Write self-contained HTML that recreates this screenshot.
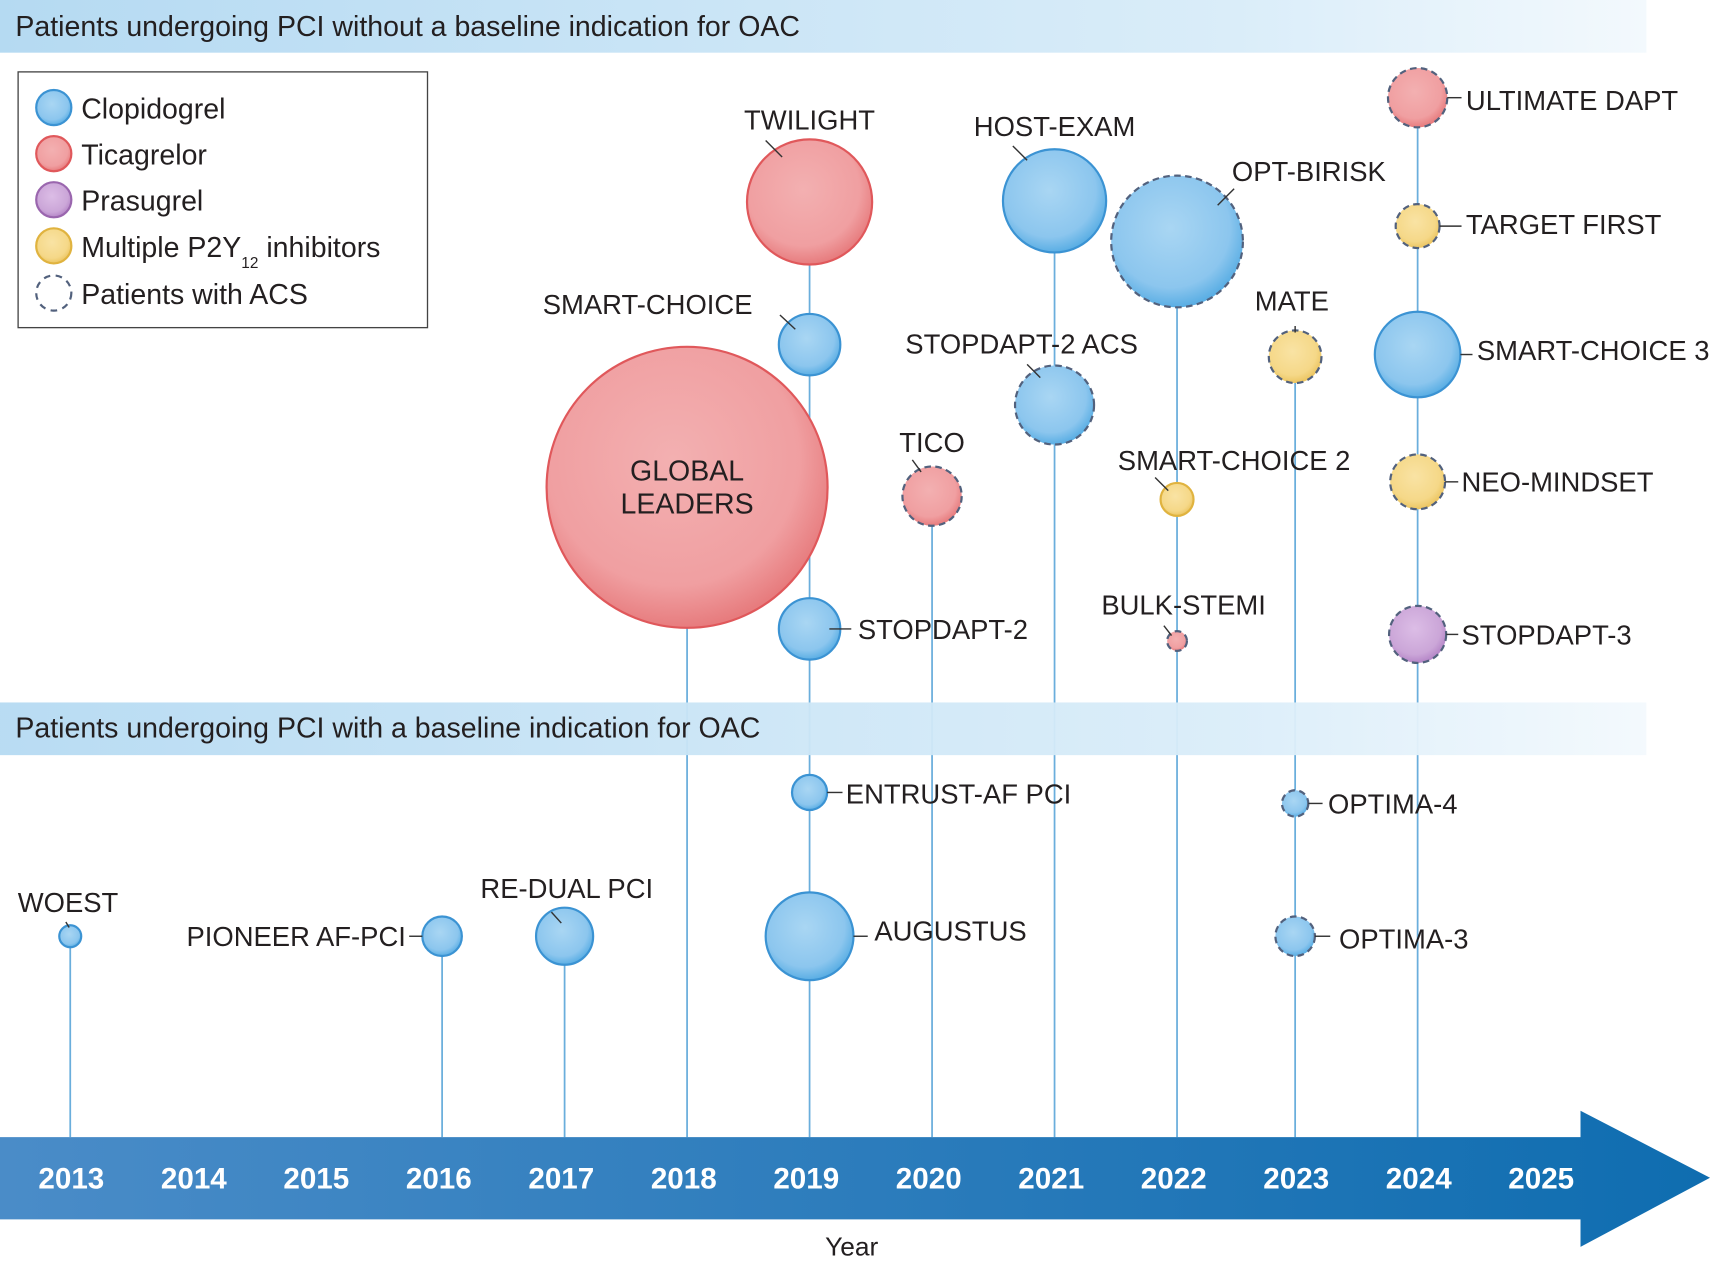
<!DOCTYPE html>
<html><head><meta charset="utf-8"><style>
html,body{margin:0;padding:0;background:#fff;}
svg{display:block;}
text{font-family:"Liberation Sans",sans-serif;fill:#231f20;}
</style></head><body>
<svg id="chart" width="1721" height="1263" viewBox="0 0 1568 1150.7" preserveAspectRatio="none" xmlns="http://www.w3.org/2000/svg">
<defs>
<linearGradient id="band" x1="0" x2="1" y1="0" y2="0">
<stop offset="0" stop-color="#b5daf2"/><stop offset="0.75" stop-color="#daedf9"/><stop offset="1" stop-color="#f3f9fd"/></linearGradient>
<linearGradient id="arrowG" x1="0" x2="1" y1="0" y2="0">
<stop offset="0" stop-color="#4a8cc8"/><stop offset="1" stop-color="#0f6db0"/></linearGradient>
<radialGradient id="g-clop" cx="0.45" cy="0.4" r="0.6"><stop offset="0" stop-color="#a9d6f3"/><stop offset="0.75" stop-color="#8cc6ee"/><stop offset="1" stop-color="#5aaee4"/></radialGradient>
<radialGradient id="g-tica" cx="0.45" cy="0.4" r="0.6"><stop offset="0" stop-color="#f3b0b1"/><stop offset="0.75" stop-color="#f09fa1"/><stop offset="1" stop-color="#e77c7e"/></radialGradient>
<radialGradient id="g-pras" cx="0.45" cy="0.4" r="0.6"><stop offset="0" stop-color="#dcbde6"/><stop offset="0.75" stop-color="#cba6d8"/><stop offset="1" stop-color="#b586c7"/></radialGradient>
<radialGradient id="g-mult" cx="0.45" cy="0.4" r="0.6"><stop offset="0" stop-color="#f9e3a4"/><stop offset="0.75" stop-color="#f5d888"/><stop offset="1" stop-color="#ecc561"/></radialGradient>
</defs>
<g id="stems"></g>
<rect x="0" y="0" width="1500" height="48" fill="url(#band)"/>
<text x="14" y="33" font-size="26">Patients undergoing PCI without a baseline indication for OAC</text>
<rect x="0" y="640" width="1500" height="48" fill="url(#band)" opacity="0.95"/>
<text x="14" y="672" font-size="26">Patients undergoing PCI with a baseline indication for OAC</text>
<path d="M0 1036 H1440 V1012 L1558 1073 L1440 1136 V1111 H0 Z" fill="url(#arrowG)"/>
<g id="years"></g>
<text x="776" y="1144" font-size="24" text-anchor="middle">Year</text>
<g id="bubbles"></g>
<g>
<rect x="16.5" y="65.5" width="373" height="233" fill="#fff" stroke="#444" stroke-width="1.2"/>
<circle cx="49" cy="98" r="16" fill="url(#g-clop)" stroke="#3b93d3" stroke-width="2"/>
<text x="74" y="108" font-size="26">Clopidogrel</text>
<circle cx="49" cy="140" r="16" fill="url(#g-tica)" stroke="#e0585b" stroke-width="2"/>
<text x="74" y="150" font-size="26">Ticagrelor</text>
<circle cx="49" cy="182" r="16" fill="url(#g-pras)" stroke="#9a66ae" stroke-width="2"/>
<text x="74" y="192" font-size="26">Prasugrel</text>
<circle cx="49" cy="224" r="16" fill="url(#g-mult)" stroke="#e0b33f" stroke-width="2"/>
<text x="74" y="234" font-size="26">Multiple P2Y<tspan font-size="14" dy="10">12</tspan><tspan dy="-10"> inhibitors</tspan></text>
<circle cx="49" cy="267" r="16" fill="none" stroke="#52617d" stroke-width="2" stroke-dasharray="6 5"/>
<text x="74" y="277" font-size="26">Patients with ACS</text>
</g>
</svg>
<script>
const yearLabels=[2013,2014,2015,2016,2017,2018,2019,2020,2021,2022,2023,2024,2025];
const trialNames=["TWILIGHT","SMART-CHOICE","GLOBAL LEADERS","STOPDAPT-2","HOST-EXAM","OPT-BIRISK","STOPDAPT-2 ACS","TICO","SMART-CHOICE 2","BULK-STEMI","MATE","ULTIMATE DAPT","TARGET FIRST","SMART-CHOICE 3","NEO-MINDSET","STOPDAPT-3","WOEST","PIONEER AF-PCI","RE-DUAL PCI","ENTRUST-AF PCI","AUGUSTUS","OPTIMA-4","OPTIMA-3"];
const trialYears=[2019,2019,2018,2019,2021,2022,2021,2020,2022,2022,2023,2024,2024,2024,2024,2024,2013,2016,2017,2019,2019,2023,2023];
const trialRows=[184,314,444,573,183,220,369,452,455,584,325,89,206,323,439,578,853,853,853,722,853,732,853];
const trialSizes=[57,28,128,28,47,60,36,27,15,9,24,27,20,39,25,26,10,18,26,16,40,12,18];
const trialDrugs=["tica","clop","tica","clop","clop","clop","clop","tica","mult","tica","mult","tica","mult","clop","mult","pras","clop","clop","clop","clop","clop","clop","clop"];
const trialAcs=[0,0,0,0,0,1,1,1,0,1,1,1,1,0,1,1,0,0,0,0,0,1,1];
// label placement: [dx, dy, anchor, leaderX1, leaderY1, leaderX2, leaderY2] relative to bubble centre
const labelPlace=[[0,-66,"middle",-40,-56,-25,-41],[-52,-28,"end",-27,-27,-13,-14],[0,0,"inside"],[44,9,"start",18,0,38,0],[0,-59,"middle",-38,-50,-25,-37],[50,-55,"start",52,-48,37,-33],[-30,-47,"middle",-25,-37,-13,-25],[0,-40,"middle",-18,-33,-10,-22],[52,-27,"middle",-20,-20,-8,-8],[6,-24,"middle",-12,-14,-5,-5],[-3,-42,"middle",0,-28,0,-22],[44,11,"start",27,0,40,0],[44,7,"start",20,0,40,0],[54,5,"start",39,0,50,0],[40,9,"start",25,0,37,0],[40,9,"start",26,0,37,0],[-2,-22,"middle",-4,-13,-1,-8],[-33,9,"end",-30,0,-18,0],[2,-35,"middle",-12,-22,-3,-12],[33,10,"start",16,0,30,0],[59,4,"start",40,0,53,0],[30,9,"start",12,0,25,0],[40,11,"start",18,0,32,0]];
const NS="http://www.w3.org/2000/svg";
const x0=64, step=111.6, axisY=1036;
function xScale(yr){return x0+(yr-2013)*step;}
function xBubble(yr){return xScale(yr)+((yr>=2016&&yr<=2022)?4:0);}
function mk(tag,attrs,parent){const e=document.createElementNS(NS,tag);for(const k in attrs)e.setAttribute(k,attrs[k]);parent.appendChild(e);return e;}
const yg=document.getElementById('years');
yearLabels.forEach(y=>{
  const t=mk('text',{x:xScale(y)+1,y:1083,'font-size':27,'font-weight':'bold','text-anchor':'middle',style:'fill:#fff'},yg);
  t.textContent=y;
  
  
});
const stemG=document.getElementById('stems');
const topByYear={};
trialYears.forEach((y,i)=>{const top=trialRows[i];if(!(y in topByYear)||top<topByYear[y])topByYear[y]=top;});
Object.keys(topByYear).forEach(y=>{
  const l=mk('line',{x1:xBubble(+y),x2:xBubble(+y),y1:topByYear[y],y2:axisY,stroke:'#6aaedc','stroke-width':1.6},stemG);
  
  
});
const strokes={clop:'#3b93d3',tica:'#e0585b',pras:'#9a66ae',mult:'#e0b33f'};
const bg=document.getElementById('bubbles');
trialNames.forEach((n,i)=>{
  const cx=xBubble(trialYears[i]), cy=trialRows[i], r=trialSizes[i];
  const g=mk('g',{},bg);
  
  
  const d=trialDrugs[i];
  const c=mk('circle',{cx:cx,cy:cy,r:r,fill:'url(#g-'+d+')',stroke:trialAcs[i]?'#52617d':strokes[d],'stroke-width':2},g);
  if(trialAcs[i])c.setAttribute('stroke-dasharray','6 4');
  
  
  const p=labelPlace[i];
  if(p[2]==="inside"){
    const t1=mk('text',{x:cx,y:cy-6,'font-size':26,'text-anchor':'middle'},g);t1.textContent="GLOBAL";
    const t2=mk('text',{x:cx,y:cy+24,'font-size':26,'text-anchor':'middle'},g);t2.textContent="LEADERS";
    return;
  }
  mk('line',{x1:cx+p[3],y1:cy+p[4],x2:cx+p[5],y2:cy+p[6],stroke:'#333','stroke-width':1.3},g);
  const t=mk('text',{x:cx+p[0],y:cy+p[1],'font-size':25,'text-anchor':p[2]},g);
  t.textContent=n;
  
  
});
</script>
</body></html>
